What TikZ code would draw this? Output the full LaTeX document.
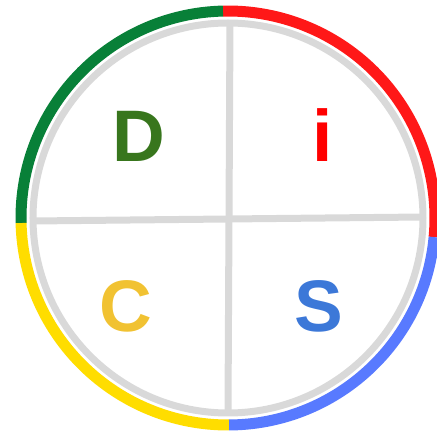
\documentclass[tikz,border=0pt]{standalone}
\usepackage{fontspec}
\setmainfont{Liberation Sans}
\usetikzlibrary{positioning}
\definecolor{arcgreen}{RGB}{8,128,56}
\definecolor{arcred}{RGB}{255,24,24}
\definecolor{arcyellow}{RGB}{255,221,0}
\definecolor{arcblue}{RGB}{88,122,255}
\definecolor{txtgreen}{RGB}{56,118,29}
\definecolor{txtred}{RGB}{255,0,0}
\definecolor{txtyellow}{RGB}{241,194,50}
\definecolor{txtblue}{RGB}{60,120,216}
\definecolor{divgray}{RGB}{217,217,217}
\tikzset{
  quadrant/.style={line width=11pt},
  divider/.style={draw=divgray, line width=7pt},
  letter/.style={anchor=base, inner sep=0pt,
    font=\fontsize{73}{73}\selectfont\bfseries}
}

\begin{document}
\begin{tikzpicture}[x=1pt, y=1pt]
  \useasboundingbox (-228,-215) rectangle (209,218);

  % Outer coloured quadrants
  \draw[quadrant, draw=arcred] (-5.3:207) arc[start angle=-5.3, end angle=91.4, radius=207];
  \draw[quadrant, draw=arcgreen] (91.4:207) arc[start angle=91.4, end angle=181.4, radius=207];
  \draw[quadrant, draw=arcyellow] (181.4:207) arc[start angle=181.4, end angle=270.3, radius=207];
  \draw[quadrant, draw=arcblue] (270.3:207) arc[start angle=270.3, end angle=354.7, radius=207];

  % Gray ring and cross
  \draw[divider] (0,0) circle[radius=195];
  \coordinate (top) at (2,195);
  \coordinate (bottom) at (0,-195);
  \coordinate (left) at (-195,-3);
  \coordinate (right) at (195,1);
  \draw[divider] (top) -- (bottom);
  \draw[divider] (left) -- (right);

  % Letters
  \node[letter, text=txtgreen] (dom) at (-89,56) {D};
  \node[letter, text=txtred] (infl) at (95,56) {i};
  \node[letter, text=txtyellow] (cons) at (-102,-114) {C};
  \node[letter, text=txtblue] (stead) at (91,-114) {S};
\end{tikzpicture}
\end{document}
